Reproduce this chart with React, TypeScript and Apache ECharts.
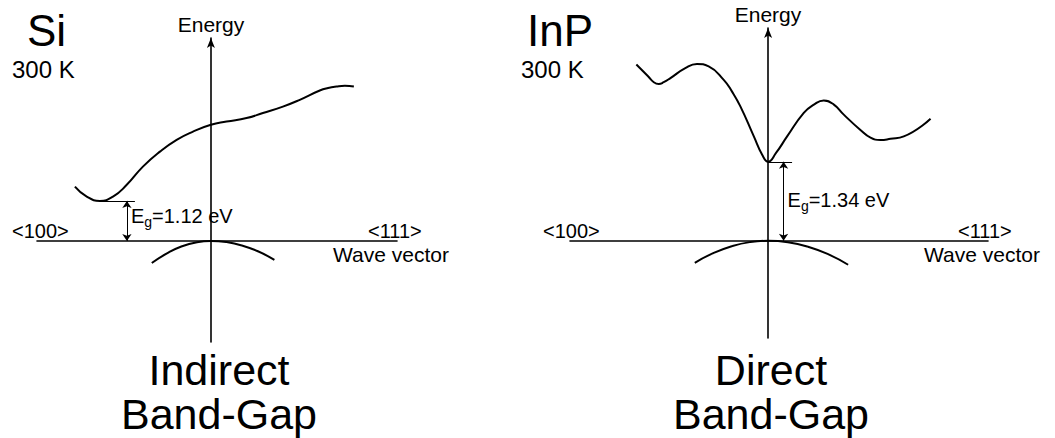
import React, { useEffect, useRef } from 'react';
import * as echarts from 'echarts';

// Band structure sketches: wave vector k (<100> to the left, <111> to the right), energy in eV.
// Valence-band maximum sits at E = 0 for both materials.

// Silicon — indirect gap
const siGap = 1.12;
const siConductionK = [-0.782, -0.714, -0.638, -0.563, -0.484, -0.391, -0.293, -0.197, -0.103, 0, 0.09, 0.205, 0.299, 0.414, 0.511, 0.626, 0.674, 0.722, 0.77, 0.822];
const siConductionE = [1.52, 1.24, 1.12, 1.24, 1.57, 2.08, 2.5, 2.83, 3.06, 3.25, 3.34, 3.44, 3.58, 3.76, 3.95, 4.21, 4.28, 4.32, 4.34, 4.32];
const siValenceK = [-0.34, -0.25, -0.17, -0.08, 0, 0.09, 0.18, 0.27, 0.365];
const siValenceE = [-0.62, -0.34, -0.155, -0.035, 0, -0.033, -0.13, -0.29, -0.53];

// Indium phosphide — direct gap
const inpGap = 1.34;
const inpConductionK = [-0.665, -0.606, -0.577, -0.552, -0.527, -0.493, -0.418, -0.359, -0.3, -0.224, -0.182, -0.14, -0.072, -0.03, 0, 0.04, 0.096, 0.18, 0.231, 0.281, 0.332, 0.382, 0.466, 0.517, 0.567, 0.618, 0.685, 0.82];
const inpConductionE = [2.99, 2.79, 2.69, 2.66, 2.69, 2.76, 2.93, 3.0, 2.96, 2.73, 2.53, 2.28, 1.77, 1.46, 1.34, 1.49, 1.77, 2.17, 2.31, 2.38, 2.31, 2.14, 1.88, 1.75, 1.71, 1.73, 1.77, 2.07];
const inpValenceK = [-0.37, -0.28, -0.18, -0.09, 0, 0.1, 0.2, 0.3, 0.404];
const inpValenceE = [-0.375, -0.215, -0.089, -0.022, 0, -0.025, -0.1, -0.224, -0.407];

// Text
const materials = ['Si', 'InP'];
const temperature = '300 K';
const axisTitle = 'Energy';
const directionLeft = '<100>';
const directionRight = '<111>';
const waveVectorTitle = 'Wave vector';
const gapKinds = ['Indirect\nBand-Gap', 'Direct\nBand-Gap'];

const FONT = '"Liberation Sans", Arial, Helvetica, sans-serif';
const BLACK = '#000';

const zip = (k: number[], e: number[]) => k.map((v, i) => [v, e[i]]);
const minK = (k: number[], e: number[]) => k[e.indexOf(Math.min(...e))];

function txt(text: string, x: number, y: number, size: number, align: string = 'left', lineHeight?: number) {
  return {
    type: 'text',
    x,
    y,
    silent: true,
    style: {
      text,
      fill: BLACK,
      fontSize: size,
      fontFamily: FONT,
      lineHeight: lineHeight ?? size,
      textAlign: align,
      textVerticalAlign: 'middle',
      align,
      verticalAlign: 'middle',
    },
  };
}

function gapLabel(value: number) {
  return {
    show: true,
    position: 'right',
    distance: 4,
    formatter: `{m|E}{s|g}{m|=${value.toFixed(2)} eV}`,
    rich: {
      m: { fontSize: 20, fontFamily: FONT, color: BLACK, lineHeight: 26 },
      s: { fontSize: 14, fontFamily: FONT, color: BLACK, lineHeight: 14, verticalAlign: 'bottom' },
    },
  };
}

function hiddenValueAxis(gridIndex: number, min: number, max: number, arrow: boolean) {
  return {
    type: 'value',
    gridIndex,
    min,
    max,
    axisLine: {
      show: true,
      onZero: true,
      symbol: arrow ? ['none', 'arrow'] : ['none', 'none'],
      symbolSize: [6, 10],
      lineStyle: { color: BLACK, width: 1.6 },
    },
    axisTick: { show: false },
    axisLabel: { show: false },
    splitLine: { show: false },
  };
}

function bandSeries(idx: number, data: number[][], extra: any = {}) {
  return {
    type: 'line',
    xAxisIndex: idx,
    yAxisIndex: idx,
    data,
    smooth: 0.5,
    symbol: 'none',
    silent: true,
    lineStyle: { color: BLACK, width: 2 },
    ...extra,
  };
}

function gapMarks(gap: number, cbMinK: number, tickEndK: number, arrowK: number, labelE: number) {
  return {
    markLine: {
      silent: true,
      symbol: ['none', 'none'],
      label: { show: false },
      lineStyle: { color: BLACK, width: 1, type: 'solid' },
      data: [
        [{ coord: [cbMinK, gap] }, { coord: [tickEndK, gap] }],
        [
          { coord: [arrowK, 0], symbol: 'arrow', symbolSize: 7 },
          { coord: [arrowK, gap], symbol: 'arrow', symbolSize: 7 },
        ],
      ],
    },
    markPoint: {
      silent: true,
      symbol: 'circle',
      symbolSize: 0,
      itemStyle: { color: 'transparent' },
      data: [{ coord: [arrowK, labelE], label: gapLabel(gap) }],
    },
  };
}

export default function App() {
  const ref = useRef<HTMLDivElement>(null);

  useEffect(() => {
    if (!ref.current) return;
    const chart = echarts.init(ref.current, null, { renderer: 'svg' });

    const option: any = {
      animation: false,
      backgroundColor: '#fff',
      grid: [
        { left: 37, top: 38, width: 360, height: 304 },
        { left: 570, top: 28, width: 418, height: 310 },
      ],
      xAxis: [hiddenValueAxis(0, -1, 1.07, false), hiddenValueAxis(1, -1, 1.11, false)],
      yAxis: [hiddenValueAxis(0, -2.83, 5.68, true), hiddenValueAxis(1, -1.65, 3.61, true)],
      series: [
        bandSeries(0, zip(siConductionK, siConductionE)),
        bandSeries(
          0,
          zip(siValenceK, siValenceE),
          gapMarks(siGap, minK(siConductionK, siConductionE), -0.437, -0.483, 0.7)
        ),
        bandSeries(1, zip(inpConductionK, inpConductionE)),
        bandSeries(
          1,
          zip(inpValenceK, inpValenceE),
          gapMarks(inpGap, minK(inpConductionK, inpConductionE), 0.121, 0.078, 0.69)
        ),
      ],
      graphic: [
        txt(materials[0], 27, 30, 44),
        txt(temperature, 12, 69, 24),
        txt(materials[1], 527, 30, 44),
        txt(temperature, 521, 69, 24),
        txt(axisTitle, 211, 24, 21, 'center'),
        txt(axisTitle, 768, 14, 21, 'center'),
        txt(directionLeft, 12, 231, 20),
        txt(directionRight, 368, 231, 20),
        txt(waveVectorTitle, 333, 254, 21),
        txt(directionLeft, 543, 231, 20),
        txt(directionRight, 958, 231, 20),
        txt(waveVectorTitle, 924, 254, 21),
        txt(gapKinds[0], 219, 392, 43, 'center', 44),
        txt(gapKinds[1], 771, 392, 43, 'center', 44),
      ],
    };

    chart.setOption(option);
    return () => chart.dispose();
  }, []);

  return (
    <div
      ref={ref}
      style={{ position: 'fixed', left: 0, top: 0, width: 1055, height: 438, background: '#fff' }}
    />
  );
}
